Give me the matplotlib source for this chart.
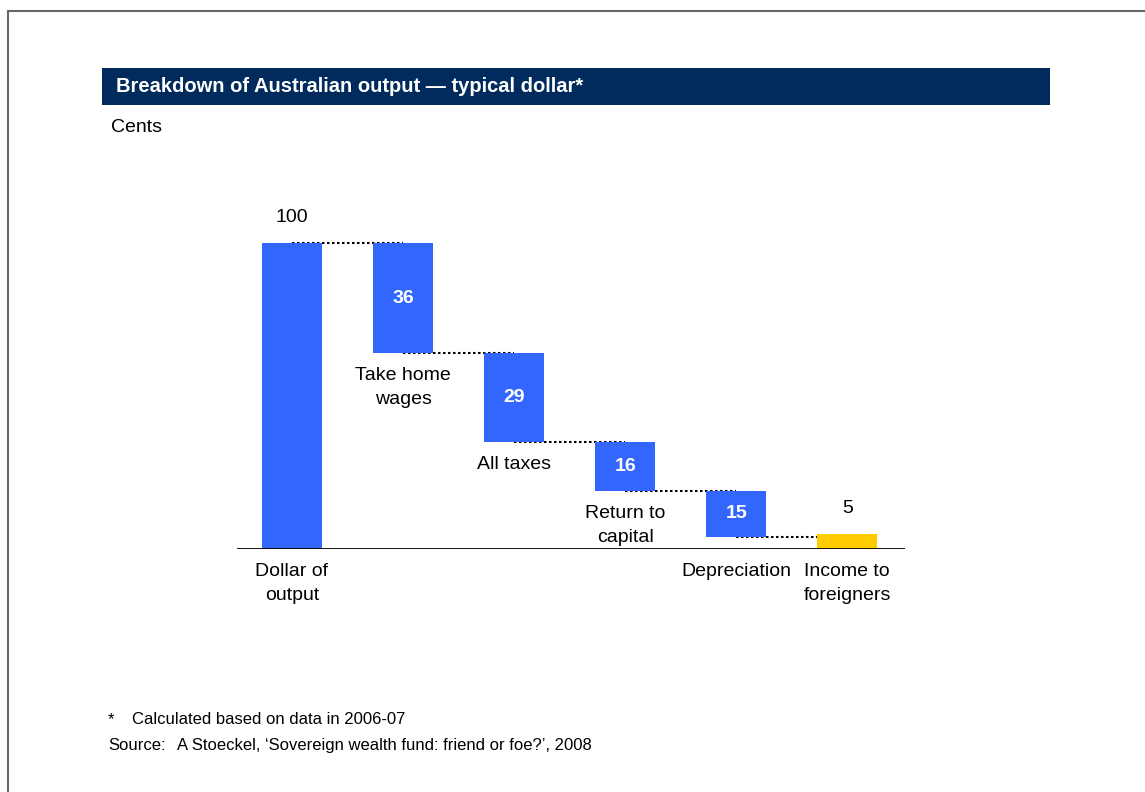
import matplotlib
matplotlib.use("Agg")
import matplotlib.pyplot as plt
from matplotlib.patches import Rectangle

plt.rcParams["font.family"] = ["Liberation Sans", "DejaVu Sans"]

# breakdown of a typical dollar of output, in cents
categories = ["Dollar of\noutput", "Take home\nwages", "All taxes",
              "Return to\ncapital", "Depreciation", "Income to\nforeigners"]
values = [100, 36, 29, 16, 15, 5]

title = "Breakdown of Australian output \u2014 typical dollar*"
unit_label = "Cents"
footnote = "Calculated based on data in 2006-07"
source = "A Stoeckel, \u2018Sovereign wealth fund: friend or foe?\u2019, 2008"

BLUE = "#3366FF"
YELLOW = "#FFCC00"
NAVY = "#002B5C"

W, H = 1145, 792
fig = plt.figure(figsize=(W / 100, H / 100), dpi=100)


def fx(px):
    return px / W


def fy(py):
    return 1 - py / H


# page frame and title band
fig.patches.append(Rectangle((fx(8), fy(H + 20)), 2, (H + 20 - 11) / H,
                             transform=fig.transFigure, fill=False,
                             edgecolor="#666666", linewidth=1.5))
fig.patches.append(Rectangle((fx(102), fy(105)), fx(1050) - fx(102), fy(68) - fy(105),
                             transform=fig.transFigure, facecolor=NAVY,
                             edgecolor="none"))
fig.text(fx(116), fy(87), title, color="white", fontsize=14.5, fontweight="bold",
         va="center", ha="left")
fig.text(fx(111), fy(127), unit_label, fontsize=14, va="center", ha="left")

# waterfall: first bar is the total, last bar is the remainder from zero
n = len(values)
bottoms = []
running = values[0]
for i, v in enumerate(values):
    if i == 0 or i == n - 1:
        bottoms.append(0)
    else:
        running -= v
        bottoms.append(running)
colors = [BLUE] * (n - 1) + [YELLOW]

px_per_unit = 3.06
ax = fig.add_axes([fx(237), fy(549), fx(905) - fx(237), 110 * px_per_unit / H])
x = list(range(n))
ax.bar(x, values, bottom=bottoms, width=0.54, color=colors, edgecolor="none", zorder=2)
ax.set_xlim(-0.495, 5.52)
ax.set_ylim(0, 110)
ax.axis("off")
ax.axhline(0, color="black", linewidth=2, zorder=3)

# dotted connectors between consecutive bars
for i in range(n - 1):
    level = values[0] if i == 0 else bottoms[i]
    ax.plot([x[i], x[i + 1]], [level, level], color="black", linewidth=1.5,
            linestyle=(0, (1.2, 1.2)), zorder=1)

# value labels
for i, v in enumerate(values):
    top = bottoms[i] + v
    if i == 0 or i == n - 1:
        ax.annotate(str(v), (x[i], top), xytext=(0, 12), textcoords="offset points",
                    ha="center", va="bottom", fontsize=14)
    else:
        ax.text(x[i], bottoms[i] + v / 2, str(v), ha="center", va="center",
                color="white", fontsize=14, fontweight="bold")

# category labels under the bar, or under the axis when the bar sits low
for i, name in enumerate(categories):
    base = bottoms[i] if bottoms[i] >= 10 else 0
    ax.annotate(name, (x[i], base), xytext=(0, -10), textcoords="offset points",
                ha="center", va="top", fontsize=14, linespacing=1.55,
                annotation_clip=False)

# notes
fig.text(fx(108), fy(724), "*", fontsize=12, va="baseline", ha="left")
fig.text(fx(132), fy(724), footnote, fontsize=12, va="baseline", ha="left")
fig.text(fx(108), fy(750), "Source:", fontsize=12, va="baseline", ha="left")
fig.text(fx(177), fy(750), source, fontsize=12, va="baseline", ha="left")

fig.savefig("out.png", dpi=100)
